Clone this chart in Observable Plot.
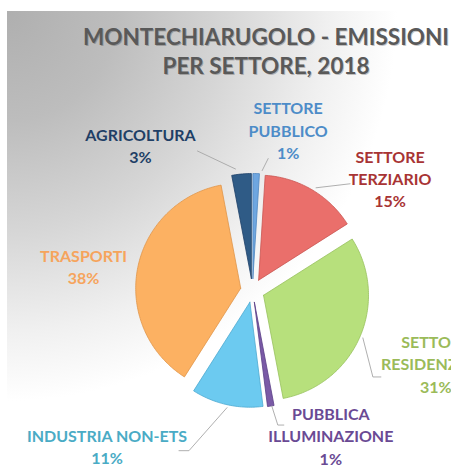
<!DOCTYPE html>
<html><head><meta charset="utf-8">
<script src="https://cdn.jsdelivr.net/npm/d3@7"></script>
<script src="https://cdn.jsdelivr.net/npm/@observablehq/plot@0.6"></script>
<style>
body{margin:0;background:#fff;}
#chart svg{display:block;}
</style></head><body><div id="chart"></div>
<script>
// ---- data ----
const sectors = ["SETTORE PUBBLICO","SETTORE TERZIARIO","SETTORE RESIDENZIALE","PUBBLICA ILLUMINAZIONE","INDUSTRIA NON-ETS","TRASPORTI","AGRICOLTURA"];
const labelNames = ["SETTORE\nPUBBLICO","SETTORE\nTERZIARIO","SETTORE\nRESIDENZIALE","PUBBLICA\nILLUMINAZIONE","INDUSTRIA NON-ETS","TRASPORTI","AGRICOLTURA"];
const shares = [1, 15, 31, 1, 11, 38, 3];
const titleText = "MONTECHIARUGOLO - EMISSIONI\nPER SETTORE, 2018";

// ---- styles ----
const sliceColors = ["#6ea6e0","#ea6f6b","#b7e07c","#7a5aa6","#6ccaf0","#fcb162","#2f5b86"];
const sliceStrokes = ["#4f86c0","#c95552","#98c25e","#5a3f86","#4eaad0","#e0954a","#1e4068"];
const labelColors = ["#4d8cc8","#a83434","#9bbb59","#6a4a94","#4aabc5","#f6a45c","#1f3f66"];

// ---- layout ----
const R = 105, EXPLODE = 12, CX = 252, CY = 290;
const labelOffsets = [[32,-44],[78,-12],[76,26],[60,29],[-120,41],[-54,-3],[-101,-29]];
const leaderOffsets = [
  [[6,-3],[12,-15]],
  [[4,-2],[38,-6]],
  [[3,1],[13,40],[21,40]],
  [[1,0],[7,19],[13,19]],
  [[0,3],[-38,46],[-48,46]],
  [],
  [[-6,-5],[-44,-23]]
];

const total = d3.sum(shares);
let acc = 0;
const slices = shares.map((v, i) => {
  const a0 = acc / total * 2 * Math.PI; acc += v;
  const a1 = acc / total * 2 * Math.PI;
  return {i, a0, a1, mid: (a0 + a1) / 2};
});
const ex = EXPLODE / R;
const polyPts = [];
slices.forEach(s => {
  const ox = ex * Math.sin(s.mid), oy = ex * Math.cos(s.mid);
  const base = {k: s.i, fill: sliceColors[s.i], stroke: sliceStrokes[s.i]};
  polyPts.push({...base, x: ox, y: oy});
  const n = Math.max(2, Math.ceil((s.a1 - s.a0) / (Math.PI / 180)));
  for (let j = 0; j <= n; j++) {
    const a = s.a0 + (s.a1 - s.a0) * j / n;
    polyPts.push({...base, x: ox + Math.sin(a), y: oy + Math.cos(a)});
  }
  polyPts.push({...base, x: ox, y: oy});
});

const outer = slices.map(s => ({x: (1 + ex) * Math.sin(s.mid), y: (1 + ex) * Math.cos(s.mid)}));
const labels = slices.map(s => ({
  text: labelNames[s.i] + "\n" + shares[s.i] + "%",
  color: labelColors[s.i],
  x: outer[s.i].x + labelOffsets[s.i][0] / R,
  y: outer[s.i].y - labelOffsets[s.i][1] / R
}));
const leaderPts = [];
slices.forEach(s => {
  leaderOffsets[s.i].forEach(([dx, dy]) => leaderPts.push({k: s.i, x: outer[s.i].x + dx / R, y: outer[s.i].y - dy / R}));
});

const plot = Plot.plot({
  width: 451, height: 465, margin: 0,
  x: {domain: [-1, 1], range: [CX - R, CX + R], axis: null},
  y: {domain: [-1, 1], range: [CY + R, CY - R], axis: null},
  style: {
    background: "radial-gradient(circle at 0 0, #afafaf 0px, #bdbdbd 110px, #d6d6d6 220px, #f0f0f0 320px, #ffffff 390px) 7px 11px / 444px 454px no-repeat, #ffffff",
    fontFamily: "Lato, 'Open Sans', sans-serif"
  },
  marks: [
    Plot.line(polyPts, {x: "x", y: "y", z: "k", fill: "fill", stroke: "stroke", strokeWidth: 0.8, curve: "linear"}),
    Plot.line(leaderPts, {x: "x", y: "y", z: "k", stroke: "#a6a6a6", strokeWidth: 0.9}),
    Plot.text(labels, {x: "x", y: "y", text: "text", fill: "color", fontSize: 16, fontWeight: "bold", lineHeight: 1.4, textAnchor: "middle", lineAnchor: "middle"}),
    Plot.text([titleText], {frameAnchor: "top", dx: 41, dy: 51, fill: "#000", fillOpacity: 0.22, fontSize: 22.5, fontWeight: "bold", lineHeight: 1.25, lineAnchor: "middle"}),
    Plot.text([titleText], {frameAnchor: "top", dx: 40, dy: 50, fill: "#595959", fontSize: 22.5, fontWeight: "bold", lineHeight: 1.25, lineAnchor: "middle"})
  ]
});
document.getElementById("chart").appendChild(plot);
</script></body></html>
